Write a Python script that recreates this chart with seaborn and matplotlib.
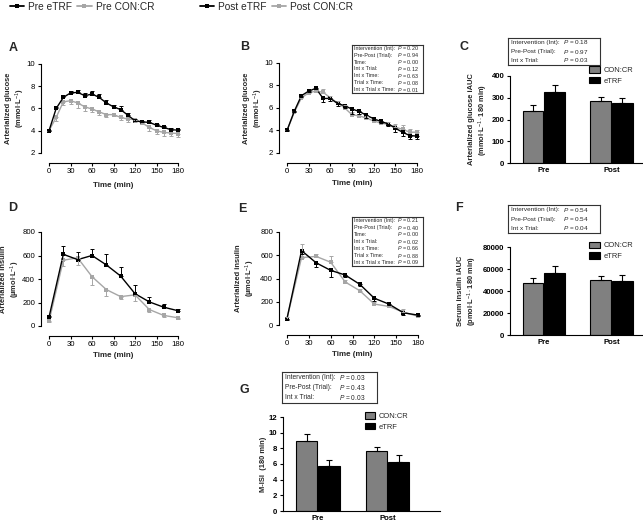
import pandas as pd
import matplotlib
matplotlib.use('Agg')
import matplotlib.pyplot as plt
import seaborn as sns
from matplotlib.lines import Line2D

sns.set_theme(style='ticks')
plt.rcParams['font.family'] = ['Liberation Sans', 'DejaVu Sans']
plt.rcParams['mathtext.fontset'] = 'custom'
plt.rcParams['mathtext.rm'] = 'Liberation Sans'
plt.rcParams['mathtext.it'] = 'Liberation Sans:italic'
plt.rcParams['mathtext.bf'] = 'Liberation Sans:bold'

# 1. Dados
tempo_glic = [0, 10, 20, 30, 40, 50, 60, 70, 80, 90, 100, 110, 120, 130, 140, 150, 160, 170, 180]
tempo_ins = [0, 20, 40, 60, 80, 100, 120, 140, 160, 180]

# glicose - pre
glic_pre_etrf = [4.0, 6.0, 7.0, 7.4, 7.45, 7.15, 7.3, 7.0, 6.5, 6.15, 5.9, 5.4, 4.9, 4.8, 4.75, 4.5, 4.3, 4.1, 4.05]
glic_pre_etrf_ep = [0.05, 0.15, 0.1, 0.15, 0.25, 0.2, 0.3, 0.3, 0.3, 0.2, 0.3, 0.2, 0.15, 0.1, 0.2, 0.15, 0.15, 0.15, 0.15]
glic_pre_con = [4.0, 5.2, 6.6, 6.7, 6.5, 6.15, 5.95, 5.7, 5.45, 5.45, 5.2, 5.05, 5.0, 4.7, 4.3, 4.0, 3.85, 3.8, 3.75]
glic_pre_con_ep = [0.05, 0.3, 0.3, 0.3, 0.5, 0.4, 0.3, 0.3, 0.2, 0.15, 0.2, 0.25, 0.2, 0.1, 0.3, 0.3, 0.3, 0.3, 0.3]

# glicose - pos
glic_pos_etrf = [4.0, 5.7, 7.1, 7.5, 7.75, 6.85, 6.85, 6.4, 6.2, 5.9, 5.7, 5.35, 5.05, 4.8, 4.6, 4.2, 3.85, 3.55, 3.5]
glic_pos_etrf_ep = [0.05, 0.1, 0.1, 0.1, 0.1, 0.3, 0.2, 0.25, 0.2, 0.4, 0.2, 0.2, 0.1, 0.15, 0.2, 0.3, 0.3, 0.3, 0.3]
glic_pos_con = [4.0, 5.6, 6.9, 7.35, 7.5, 7.4, 6.9, 6.45, 6.0, 5.4, 5.3, 5.1, 4.85, 4.65, 4.55, 4.3, 4.1, 3.85, 3.85]
glic_pos_con_ep = [0.05, 0.1, 0.1, 0.1, 0.1, 0.3, 0.2, 0.2, 0.25, 0.2, 0.15, 0.15, 0.15, 0.15, 0.2, 0.3, 0.35, 0.3, 0.2]

# insulina - pre
ins_pre_etrf = [75, 610, 565, 600, 520, 425, 275, 205, 160, 130]
ins_pre_etrf_ep = [10, 70, 65, 55, 95, 80, 75, 45, 25, 15]
ins_pre_con = [40, 560, 580, 420, 310, 250, 265, 140, 90, 70]
ins_pre_con_ep = [10, 50, 60, 70, 55, 20, 55, 20, 15, 10]

# insulina - pos
ins_pos_etrf = [55, 640, 535, 470, 430, 350, 230, 180, 105, 85]
ins_pos_etrf_ep = [10, 30, 40, 55, 15, 15, 20, 10, 15, 10]
ins_pos_con = [55, 580, 590, 540, 370, 295, 180, 160, 110, 75]
ins_pos_con_ep = [10, 120, 20, 55, 20, 15, 15, 10, 25, 15]

# barras (Pre, Post)
fases = ['Pre', 'Post']
iauc_glic_con = [240, 285]
iauc_glic_con_ep = [28, 20]
iauc_glic_etrf = [325, 278]
iauc_glic_etrf_ep = [32, 22]

iauc_ins_con = [47000, 50000]
iauc_ins_con_ep = [5000, 3500]
iauc_ins_etrf = [56000, 49500]
iauc_ins_etrf_ep = [7000, 5500]

misi_con = [8.9, 7.65]
misi_con_ep = [0.9, 0.5]
misi_etrf = [5.7, 6.3]
misi_etrf_ep = [0.8, 0.8]

# estatisticas
rot_tempo = ['Intervention (Int):', 'Pre-Post (Trial):', 'Time:', 'Int x Trial:',
             'Int x Time:', 'Trial x Time:', 'Int x Trial x Time:']
p_glic = ['0.20', '0.94', '0.00', '0.12', '0.63', '0.08', '0.01']
p_ins = ['0.21', '0.40', '0.00', '0.02', '0.66', '0.88', '0.09']
rot_barra = ['Intervention (Int):', 'Pre-Post (Trial):', 'Int x Trial:']
p_iauc_glic = ['0.18', '0.97', '0.03']
p_iauc_ins = ['0.54', '0.54', '0.04']
p_misi = ['0.03', '0.43', '0.03']

CINZA_LINHA = '#a6a6a6'
CINZA_BARRA = '#808080'
W, H = 643, 525
FS = 5.6

fig = plt.figure(figsize=(W / 100, H / 100), dpi=100)


def eixo(x0, y0, x1, y1):
    # posicao em pixels (topo-esquerda) -> fracao da figura
    return fig.add_axes([x0 / W, 1 - y1 / H, (x1 - x0) / W, (y1 - y0) / H])


def estilo(ax):
    sns.despine(ax=ax)
    for s in ['left', 'bottom']:
        ax.spines[s].set_linewidth(0.8)
        ax.spines[s].set_color('black')
    ax.tick_params(direction='out', length=2.5, width=0.8, labelsize=FS, pad=1.5, colors='black')


def painel_linha(ax, t, y_etrf, e_etrf, y_con, e_con, etrf_cima, ylim, yticks, ylabel, lx, ly):
    n = len(t)
    df = pd.DataFrame({'Tempo': t + t, 'Valor': y_con + y_etrf,
                       'Grupo': ['CON:CR'] * n + ['eTRF'] * n})
    sns.lineplot(data=df, x='Tempo', y='Valor', hue='Grupo', hue_order=['CON:CR', 'eTRF'],
                 palette={'CON:CR': CINZA_LINHA, 'eTRF': 'black'}, marker='s', markersize=2.6,
                 markeredgewidth=0, linewidth=1.0, legend=False, ax=ax, clip_on=False)
    zeros = [0] * n
    if etrf_cima:
        err_e, err_c = [zeros, e_etrf], [e_con, zeros]
    else:
        err_e, err_c = [e_etrf, zeros], [zeros, e_con]
    ax.errorbar(t, y_con, yerr=err_c, fmt='none', ecolor=CINZA_LINHA, elinewidth=0.7,
                capsize=1.5, capthick=0.7, clip_on=False)
    ax.errorbar(t, y_etrf, yerr=err_e, fmt='none', ecolor='black', elinewidth=0.7,
                capsize=1.5, capthick=0.7, clip_on=False)
    ax.set_xlim(0, 180)
    ax.set_xticks([0, 30, 60, 90, 120, 150, 180])
    ax.set_ylim(*ylim)
    ax.set_yticks(yticks)
    ax.set_xlabel('Time (min)', fontsize=FS + 0.2, fontweight='bold', va='center')
    ax.set_ylabel(ylabel, fontsize=FS - 0.2, fontweight='bold', va='center')
    ax.xaxis.set_label_coords(0.5, lx)
    ax.yaxis.set_label_coords(ly, 0.5)
    estilo(ax)
    ax.spines['left'].set_position(('outward', 6))
    ax.spines['bottom'].set_position(('outward', 7))


def painel_barra(ax, con, con_ep, etrf, etrf_ep, ylim, yticks, ylabel, xmax, ly, leg_xy):
    df = pd.DataFrame({'Fase': fases + fases, 'Valor': con + etrf,
                       'Grupo': ['CON:CR'] * 2 + ['eTRF'] * 2})
    sns.barplot(data=df, x='Fase', y='Valor', hue='Grupo', hue_order=['CON:CR', 'eTRF'],
                palette={'CON:CR': CINZA_BARRA, 'eTRF': 'black'}, edgecolor='black',
                linewidth=0.8, width=0.64, gap=0.05, errorbar=None, ax=ax)
    for cont, erros in zip(ax.containers, [con_ep, etrf_ep]):
        xs = [p.get_x() + p.get_width() / 2 for p in cont]
        hs = [p.get_height() for p in cont]
        ax.errorbar(xs, hs, yerr=[[0, 0], erros], fmt='none', ecolor='black',
                    elinewidth=0.8, capsize=2.2, capthick=0.8)
    ax.set_xlim(-0.5, xmax)
    ax.set_ylim(*ylim)
    ax.set_yticks(yticks)
    ax.set_xlabel('')
    ax.set_ylabel(ylabel, fontsize=FS - 0.2, fontweight='bold', va='center')
    ax.yaxis.set_label_coords(ly, 0.5)
    estilo(ax)
    ax.tick_params(axis='x', length=0, pad=3)
    for lb in ax.get_xticklabels() + ax.get_yticklabels():
        lb.set_fontweight('bold')
    ax.legend(loc='upper left', bbox_to_anchor=leg_xy, frameon=False, fontsize=FS - 0.2,
              handlelength=1.4, handleheight=0.9, handletextpad=0.5, labelspacing=0.4,
              borderaxespad=0, borderpad=0)


def caixa(x0, y0, x1, y1, rotulos, valores, fs, xp):
    bax = eixo(x0, y0, x1, y1)
    bax.set_xticks([])
    bax.set_yticks([])
    bax.set_facecolor('white')
    for s in bax.spines.values():
        s.set_linewidth(0.8)
        s.set_color('#333333')
    n = len(rotulos)
    for i, (r, v) in enumerate(zip(rotulos, valores)):
        yy = 1 - (i + 0.5) / n
        bax.text(0.03, yy, r, fontsize=fs, va='center', ha='left', transform=bax.transAxes)
        bax.text(xp, yy, f'$P$ = {v}', fontsize=fs, va='center', ha='left', transform=bax.transAxes)


# 2. Paineis
axA = eixo(49, 64, 178, 153)
painel_linha(axA, tempo_glic, glic_pre_etrf, glic_pre_etrf_ep, glic_pre_con, glic_pre_con_ep,
             True, (2, 10), [2, 4, 6, 8, 10], 'Arterialized glucose\n(mmol$\\cdot$L$^{-1}$)',
             -0.37, -0.255)

axB = eixo(287, 63, 417, 153)
painel_linha(axB, tempo_glic, glic_pos_etrf, glic_pos_etrf_ep, glic_pos_con, glic_pos_con_ep,
             False, (2, 10), [2, 4, 6, 8, 10], 'Arterialized glucose\n(mmol$\\cdot$L$^{-1}$)',
             -0.34, -0.255)

axD = eixo(49, 232, 178, 326)
painel_linha(axD, tempo_ins, ins_pre_etrf, ins_pre_etrf_ep, ins_pre_con, ins_pre_con_ep,
             True, (0, 800), [0, 200, 400, 600, 800], 'Arterialized insulin\n(µmol$\\cdot$L$^{-1}$)',
             -0.31, -0.295)

axE = eixo(287, 232, 418, 325)
painel_linha(axE, tempo_ins, ins_pos_etrf, ins_pos_etrf_ep, ins_pos_con, ins_pos_con_ep,
             False, (0, 800), [0, 200, 400, 600, 800], 'Arterialized insulin\n(µmol$\\cdot$L$^{-1}$)',
             -0.32, -0.31)

axC = eixo(510, 76, 642, 163)
painel_barra(axC, iauc_glic_con, iauc_glic_con_ep, iauc_glic_etrf, iauc_glic_etrf_ep,
             (0, 400), [0, 100, 200, 300, 400],
             'Arterialized glucose iAUC\n(mmol$\\cdot$L$^{-1}\\cdot$180 min)', 1.45, -0.235,
             (0.6, 1.11))

axF = eixo(510, 247, 642, 335)
painel_barra(axF, iauc_ins_con, iauc_ins_con_ep, iauc_ins_etrf, iauc_ins_etrf_ep,
             (0, 80000), [0, 20000, 40000, 60000, 80000],
             'Serum insulin iAUC\n(pmol$\\cdot$L$^{-1}\\cdot$180 min)', 1.45, -0.315,
             (0.6, 1.06))

axG = eixo(283, 417, 440, 511)
painel_barra(axG, misi_con, misi_con_ep, misi_etrf, misi_etrf_ep,
             (0, 12), [0, 2, 4, 6, 8, 10, 12], 'M-ISI  (180 min)', 1.75, -0.125,
             (0.52, 1.05))

# 3. Caixas de estatistica
caixa(352, 45, 423, 93, rot_tempo, p_glic, 3.9, 0.63)
caixa(352, 217, 423, 266, rot_tempo, p_ins, 3.9, 0.63)
caixa(508, 38, 600, 65, rot_barra, p_iauc_glic, 4.6, 0.6)
caixa(508, 205, 600, 233, rot_barra, p_iauc_ins, 4.6, 0.6)
caixa(282, 372, 377, 403, rot_barra, p_misi, 4.8, 0.6)

# 4. Letras dos paineis
for letra, x, y in [('A', 9, 48), ('B', 240, 47), ('C', 460, 47), ('D', 8, 208),
                    ('E', 238, 209), ('F', 455, 208), ('G', 240, 390)]:
    fig.text(x / W, 1 - y / H, letra, fontsize=9, fontweight='bold', va='center', ha='left')

# 5. Legendas do topo
def alca(cor, rotulo):
    return Line2D([], [], color=cor, marker='s', markersize=2.8, markeredgewidth=0, lw=1.3, label=rotulo)

fig.legend(handles=[alca('black', 'Pre eTRF'), alca(CINZA_LINHA, 'Pre CON:CR')],
           loc='center left', bbox_to_anchor=(10 / W, 1 - 7 / H), ncol=2, frameon=False,
           fontsize=7.3, handlelength=1.4, handletextpad=0.4, columnspacing=0.5,
           borderaxespad=0, borderpad=0)
fig.legend(handles=[alca('black', 'Post eTRF'), alca(CINZA_LINHA, 'Post CON:CR')],
           loc='center left', bbox_to_anchor=(200 / W, 1 - 7 / H), ncol=2, frameon=False,
           fontsize=7.3, handlelength=1.4, handletextpad=0.4, columnspacing=0.5,
           borderaxespad=0, borderpad=0)

fig.savefig('out.png', dpi=100)
